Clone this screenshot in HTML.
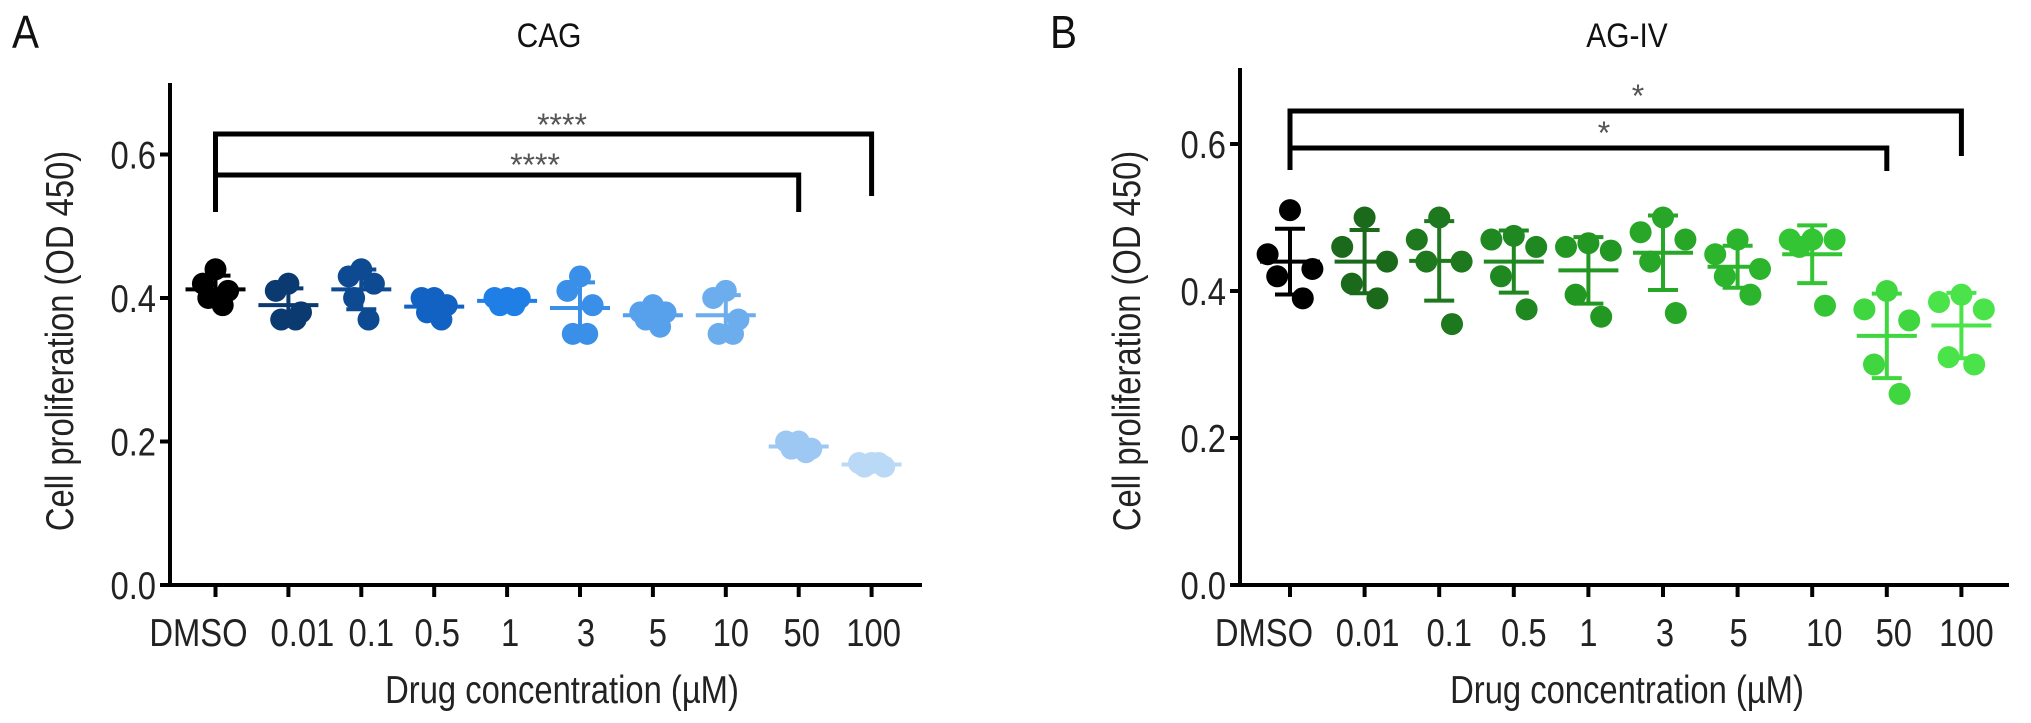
<!DOCTYPE html>
<html><head><meta charset="utf-8"><style>
body{margin:0;background:#fff;}
svg{display:block;font-family:"Liberation Sans",Arial,sans-serif;}
</style></head><body>
<svg id="fig" width="2031" height="723" viewBox="0 0 2031 723"></svg>
<script>
const categories = ["DMSO","0.01","0.1","0.5","1","3","5","10","50","100"];
const yTicks = [0.0, 0.2, 0.4, 0.6];
const tickLabels = ["0.0","0.2","0.4","0.6"];
const cagValues = [
 [0.44,0.42,0.41,0.40,0.39],
 [0.42,0.41,0.38,0.37,0.37],
 [0.44,0.43,0.42,0.40,0.37],
 [0.40,0.40,0.39,0.38,0.37],
 [0.40,0.40,0.40,0.39,0.39],
 [0.43,0.41,0.39,0.35,0.35],
 [0.39,0.38,0.38,0.37,0.36],
 [0.41,0.40,0.37,0.35,0.35],
 [0.20,0.20,0.19,0.19,0.185],
 [0.17,0.17,0.165,0.165,0.17]
];
const agValues = [
 [0.51,0.45,0.43,0.42,0.39],
 [0.50,0.46,0.44,0.41,0.39],
 [0.50,0.47,0.44,0.44,0.355],
 [0.475,0.47,0.46,0.42,0.375],
 [0.465,0.46,0.455,0.395,0.365],
 [0.50,0.48,0.47,0.44,0.37],
 [0.47,0.45,0.43,0.42,0.395],
 [0.47,0.47,0.47,0.46,0.38],
 [0.40,0.375,0.36,0.30,0.26],
 [0.395,0.385,0.375,0.31,0.30]
];
const cagStars = ["****","****"];
const agStars = ["*","*"];

const NS="http://www.w3.org/2000/svg";
const svg=document.getElementById('fig');
function mk(tag,attrs,parent){const e=document.createElementNS(NS,tag);for(const k in attrs)e.setAttribute(k,attrs[k]);(parent||svg).appendChild(e);return e;}
function txt(parent,x,y,size,anchor,fill,str,rot,sx){
  const t=mk('text',{x:0,y:0,'font-size':size,'text-anchor':anchor,fill:fill,transform:`translate(${x},${y})${rot?' rotate(-90)':''} scale(${sx||0.84},1)`},parent);
  t.textContent=str;return t;
}

function panel(cfg){
  const g=mk('g',{});
  
  
  const y=v=>cfg.y0-(v/0.2)*cfg.per02;
  const x=i=>cfg.x0+i*cfg.step;
  const L=txt(g,cfg.letterX,48,46,'start','#111',cfg.letter,false,0.88);
  
  
  const T=txt(g,cfg.titleX,47,34,'middle','#111',cfg.title,false,0.88);
  
  
  const ya=mk('line',{x1:cfg.ax,y1:cfg.top,x2:cfg.ax,y2:cfg.y0+2,stroke:'#000','stroke-width':4},g);
  
  
  const xa=mk('line',{x1:cfg.ax-2,y1:cfg.y0,x2:cfg.right,y2:cfg.y0,stroke:'#000','stroke-width':4},g);
  
  
  yTicks.forEach((t,i)=>{
    mk('line',{x1:cfg.ax-10,y1:y(t),x2:cfg.ax,y2:y(t),stroke:'#000','stroke-width':4},g);
    const tl=txt(g,cfg.ax-14,y(t)+14,39,'end','#222',tickLabels[i]);
    
    
  });
  categories.forEach((c,i)=>{
    mk('line',{x1:x(i),y1:cfg.y0,x2:x(i),y2:cfg.y0+12,stroke:'#000','stroke-width':4},g);
    const tl=txt(g,x(i)+cfg.labelShift[i],646,39,'middle','#222',c);
    
    
  });
  const xt=txt(g,cfg.xTitleX,703,39,'middle','#222',"Drug concentration (\u00b5M)");
  
  
  const yt=txt(g,cfg.yTitleX,cfg.yTitleY,39,'middle','#222',"Cell proliferation (OD 450)",true);
  
  
  const jit=[0,-14,14,-8,8];
  cfg.values.forEach((pts,i)=>{
    const col=cfg.colors[i];
    const gg=mk('g',{},g);
    
    
    pts.forEach((v,j)=>{
      const c=mk('circle',{cx:x(i)+jit[j]*cfg.jscale,cy:y(v),r:11,fill:col},gg);
      
      
    });
    const m=pts.reduce((a,b)=>a+b,0)/pts.length;
    const sd=Math.sqrt(pts.reduce((a,b)=>a+(b-m)*(b-m),0)/(pts.length-1));
    const e=mk('g',{stroke:col,'stroke-width':4},gg);
    
    
    mk('line',{x1:x(i)-30,y1:y(m),x2:x(i)+30,y2:y(m)},e);
    mk('line',{x1:x(i),y1:y(m+sd),x2:x(i),y2:y(m-sd)},e);
    mk('line',{x1:x(i)-15,y1:y(m+sd),x2:x(i)+15,y2:y(m+sd)},e);
    mk('line',{x1:x(i)-15,y1:y(m-sd),x2:x(i)+15,y2:y(m-sd)},e);
  });
  cfg.brackets.forEach((b,k)=>{
    const p=mk('path',{d:`M${x(0)},${b.left} V${b.y} H${x(b.to)} V${b.right}`,fill:'none',stroke:'#000','stroke-width':5},g);
    
    
    const s=txt(g,b.sx,b.sy,32,'middle','#555',cfg.stars[k],false,1);
    
    
  });
}

panel({name:'panel-a-cag',letter:'A',letterX:12,title:'CAG',titleX:549,ax:170,top:83,right:922,y0:585,per02:143.5,x0:215.5,step:72.9,
  labelShift:[-17,14,10,3,3,6,5,5,3,2],
  xTitleX:562,yTitleX:73,yTitleY:341,values:cagValues,jscale:0.9,stars:cagStars,
  colors:['#000','#0b3a70','#0d4a92','#1262c4','#1f7fe6','#3a8fe8','#56a0ec','#6cadee','#9cc8f3','#bad9f6'],
  brackets:[{y:175,to:8,left:212,right:212,sx:535,sy:176},{y:134,to:9,left:212,right:196,sx:562,sy:136}]});
panel({name:'panel-b-ag-iv',letter:'B',letterX:1050,title:'AG-IV',titleX:1627,ax:1240,top:68,right:2009,y0:585,per02:147,x0:1290,step:74.6,
  labelShift:[-26,3,10,10,0,2,1,12,7,5],
  xTitleX:1627,yTitleX:1140,yTitleY:341,values:agValues,jscale:1.6,stars:agStars,
  colors:['#000','#1b6a1b','#1e781e','#208820','#229822','#27a627','#2cb52c','#33c533','#3fd63f','#4ae44a'],
  brackets:[{y:148,to:8,left:170,right:171,sx:1604,sy:144},{y:111,to:9,left:170,right:156,sx:1638,sy:107}]});
</script>
</body></html>
